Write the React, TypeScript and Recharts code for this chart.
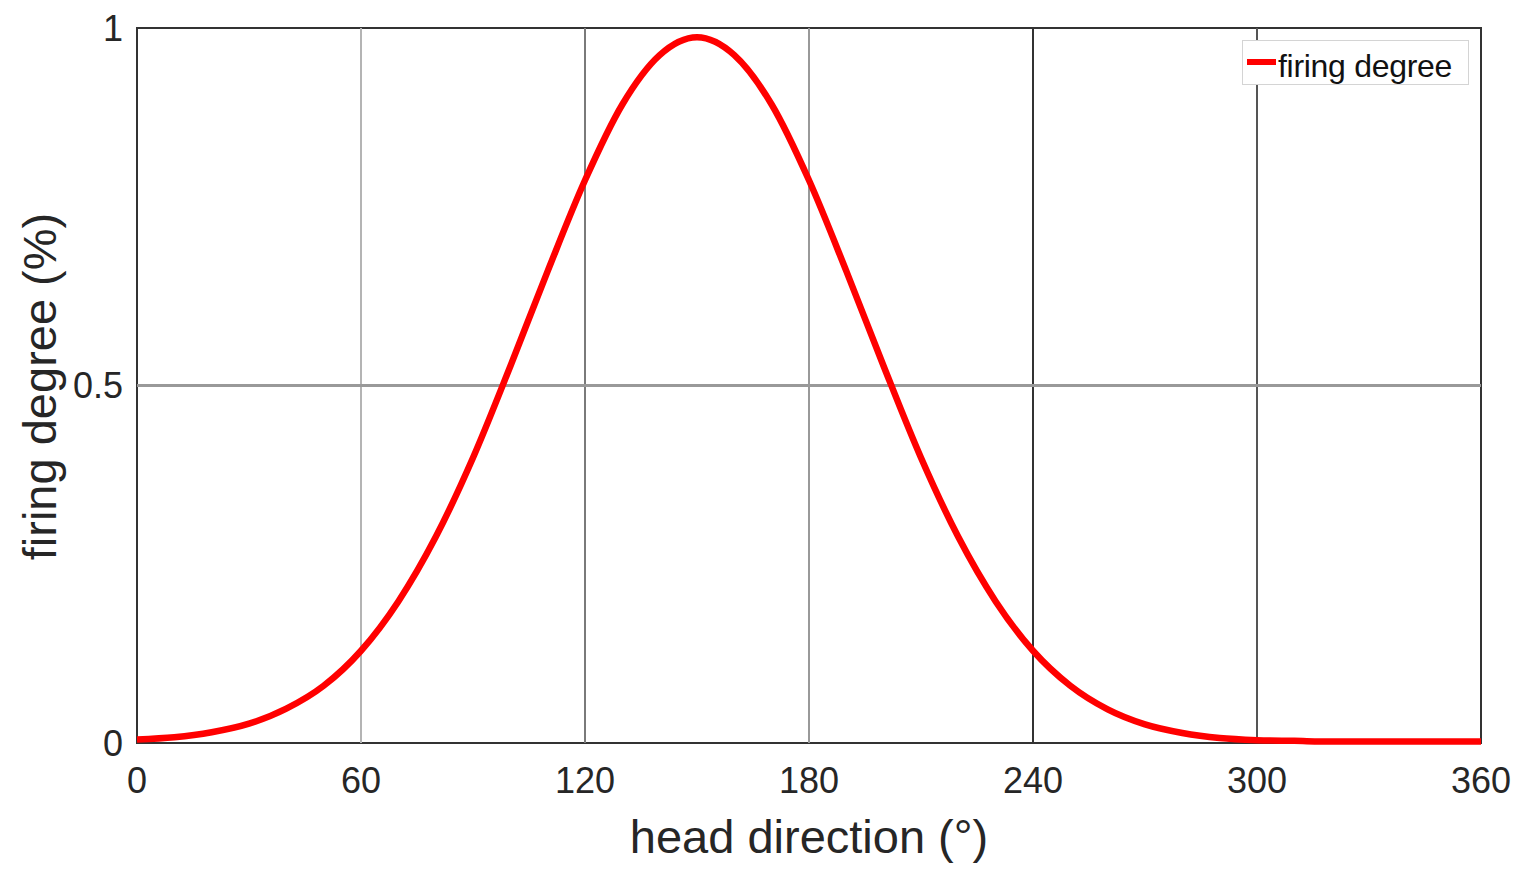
import {
  LineChart, Line, XAxis, YAxis, ReferenceLine, ReferenceArea, Legend, Label,
} from 'recharts';

const headDirection = [
  0, 10, 20, 30, 40, 50, 60, 70, 80, 90, 100, 110, 120, 130, 140, 150, 160, 170, 180,
  190, 200, 210, 220, 230, 240, 250, 260, 270, 280, 290, 300, 310, 320, 330, 340, 350, 360,
];
const firingDegree = [
  0.005, 0.008, 0.015, 0.027, 0.048, 0.08, 0.129, 0.198, 0.288, 0.399, 0.527, 0.66, 0.787,
  0.893, 0.962, 0.987, 0.962, 0.893, 0.787, 0.66, 0.527, 0.399, 0.288, 0.198, 0.129, 0.08,
  0.047, 0.026, 0.014, 0.007, 0.004, 0.003, 0.002, 0.002, 0.002, 0.002, 0.002,
];
const xTicks = [0, 60, 120, 180, 240, 300, 360];
const yTicks = [0, 0.5, 1];
const xGridLines = [60, 120, 180, 240, 300];
const xGridColors = ['#b4b4b4', '#7a7a7a', '#999999', '#333333', '#555555'];

const FONT = '"Liberation Sans", Arial, Helvetica, sans-serif';
const TEXT = '#262626';

const data = headDirection.map((x, i) => ({ x, y: firingDegree[i] }));

function LegendBox() {
  return (
    <div
      style={{
        width: 225,
        height: 43,
        border: '1px solid #d4d4d4',
        background: '#fff',
        display: 'flex',
        alignItems: 'center',
        fontFamily: FONT,
        fontSize: 32,
        color: '#111',
        boxSizing: 'content-box',
      }}
    >
      <span style={{ display: 'inline-block', width: 29, height: 6, background: '#ff0000', marginLeft: 4, marginRight: 2, marginTop: -2 }} />
      <span style={{ lineHeight: '43px', letterSpacing: -0.3, position: 'relative', top: 4 }}>firing degree</span>
    </div>
  );
}

export default function App() {
  return (
    <LineChart
      width={1514}
      height={865}
      data={data}
      margin={{ top: 20, right: 41, bottom: 5, left: 0 }}
      style={{ fontFamily: FONT }}
    >
      {xGridLines.map((g, i) => (
        <ReferenceLine key={g} x={g} stroke={xGridColors[i]} strokeWidth={2} />
      ))}
      <ReferenceLine y={0.5} stroke="#999999" strokeWidth={3} />
      <ReferenceArea x1={0} x2={360} y1={0} y2={1} fill="none" stroke="#333" strokeWidth={2} strokeOpacity={1} />
      <XAxis
        dataKey="x"
        type="number"
        domain={[0, 360]}
        ticks={xTicks}
        height={125}
        tickSize={0}
        tickMargin={24}
        axisLine={false}
        tickLine={false}
        tick={{ fontSize: 36, fill: TEXT, fontFamily: FONT }}
        interval={0}
      >
        <Label
          content={({ viewBox }: any) => (
            <text
              x={viewBox.x + viewBox.width / 2}
              y={viewBox.y + 110}
              textAnchor="middle"
              fontSize={47}
              fill={TEXT}
              fontFamily={FONT}
            >
              head direction (°)
            </text>
          )}
        />
      </XAxis>
      <YAxis
        type="number"
        domain={[0, 1]}
        ticks={yTicks}
        width={129}
        tickSize={0}
        tickMargin={14}
        axisLine={false}
        tickLine={false}
        tick={{ fontSize: 36, fill: TEXT, fontFamily: FONT }}
        interval={0}
      >
        <Label
          content={({ viewBox }: any) => {
            const cx = viewBox.x + 48;
            const cy = viewBox.y + viewBox.height / 2 + 1;
            return (
              <text
                x={cx}
                y={cy}
                transform={`rotate(-90 ${cx} ${cy})`}
                textAnchor="middle"
                fontSize={47}
                fill={TEXT}
                fontFamily={FONT}
              >
                firing degree (%)
              </text>
            );
          }}
        />
      </YAxis>
      <Legend
        layout="vertical"
        align="center"
        verticalAlign="middle"
        content={() => <LegendBox />}
        wrapperStyle={{ top: 32, left: 1234, width: 227, height: 45 }}
      />
      <Line
        type="monotone"
        dataKey="y"
        name="firing degree"
        stroke="#ff0000"
        strokeWidth={6.5}
        dot={false}
        activeDot={false}
        isAnimationActive={false}
      />
    </LineChart>
  );
}
